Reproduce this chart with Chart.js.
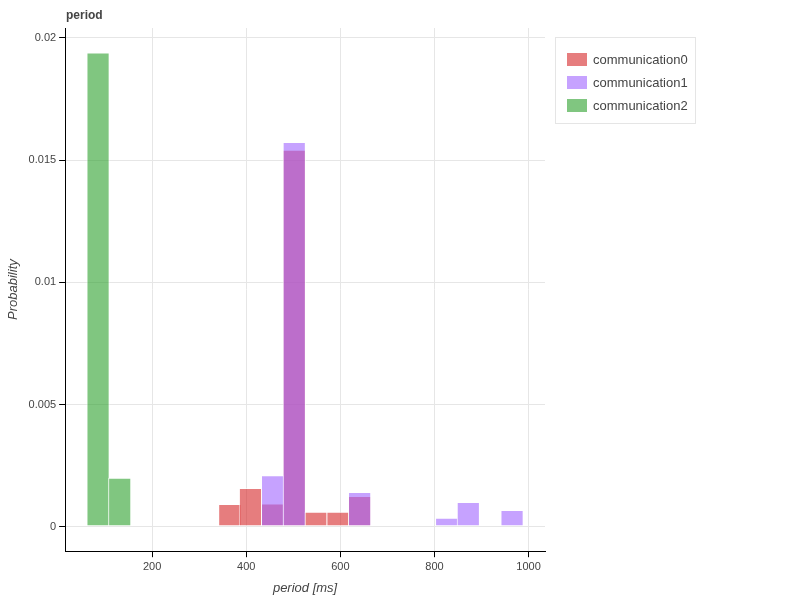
<!DOCTYPE html>
<html><head><meta charset="utf-8">
<script src="https://cdn.jsdelivr.net/npm/chart.js@4/dist/chart.umd.min.js"></script>
<style>body{margin:0;background:#fff;font-family:'Liberation Sans',Arial,sans-serif}#w{position:relative;width:800px;height:600px}
#t{position:absolute;left:66px;top:8px;font-size:12px;font-weight:bold;color:#444}
#lg{position:absolute;left:555px;top:37px;width:141px;height:87px;border:1px solid #e5e5e5;box-sizing:border-box;padding:10px 0 0 11px;font-size:13px;color:#444}
#lg div{height:23px;display:flex;align-items:center}#lg span{display:inline-block;width:20px;height:13px;margin-right:6px}</style>
</head><body><div id="w"><canvas id="c" width="800" height="600"></canvas><div id="t">period</div><div id="lg"></div></div>
<script>
const seriesNames = ["communication0","communication1","communication2"];
const bins0 = [365, 409, 456, 502, 548, 595, 641];
const vals0 = [0.00093, 0.00158, 0.00095, 0.01542, 0.00061, 0.00061, 0.00126];
const bins1 = [456, 502, 641, 826, 872, 965];
const vals1 = [0.00211, 0.01574, 0.00142, 0.00037, 0.00101, 0.00069];
const bins2 = [85, 131];
const vals2 = [0.0194, 0.0020];
const xTicks = [200, 400, 600, 800, 1000];
const yTicks = [0, 0.005, 0.01, 0.015, 0.02];
const colors = ["rgba(214,39,40,0.6)","rgba(160,100,255,0.6)","rgba(44,160,44,0.6)"];
document.getElementById('lg').innerHTML=seriesNames.map((n,i)=>`<div><span style="background:${colors[i]}"></span>${n}</div>`).join('');
const toPts=(b,v)=>b.map((x,i)=>({x:x,y:v[i]}));
const ds=[toPts(bins0,vals0),toPts(bins1,vals1),toPts(bins2,vals2)].map((d,i)=>({
  label:seriesNames[i],data:d,backgroundColor:colors[i],borderColor:"rgba(255,255,255,0.6)",
  borderWidth:1,borderSkipped:false,barPercentage:1.12,categoryPercentage:1,grouped:false,order:-i}));
Chart.defaults.font.family="'Liberation Sans', Arial, sans-serif";
new Chart(document.getElementById('c'),{type:'bar',data:{datasets:ds},
 options:{responsive:false,animation:false,
  layout:{padding:{left:2,right:255,top:28,bottom:0}},
  plugins:{legend:{display:false},tooltip:{enabled:false}},
  scales:{
   x:{type:'linear',offset:false,min:15,max:1035,afterBuildTicks:a=>{a.ticks=xTicks.map(v=>({value:v}))},
    ticks:{color:'#444',font:{size:11},callback:v=>String(v)},grid:{offset:false,color:'#e6e6e6',tickLength:6,tickColor:'#000'},border:{color:'#000'},
    title:{display:true,text:'period [ms]',color:'#444',font:{size:13,style:'italic'}}},
   y:{min:-0.001,max:0.0204,afterBuildTicks:a=>{a.ticks=yTicks.map(v=>({value:v}))},
    ticks:{color:'#444',font:{size:11},callback:v=>String(v)},grid:{color:'#e6e6e6',tickLength:6,tickColor:'#000'},border:{color:'#000'},
    title:{display:true,text:'Probability',color:'#444',font:{size:13,style:'italic'}}}
  }}});
</script></body></html>
